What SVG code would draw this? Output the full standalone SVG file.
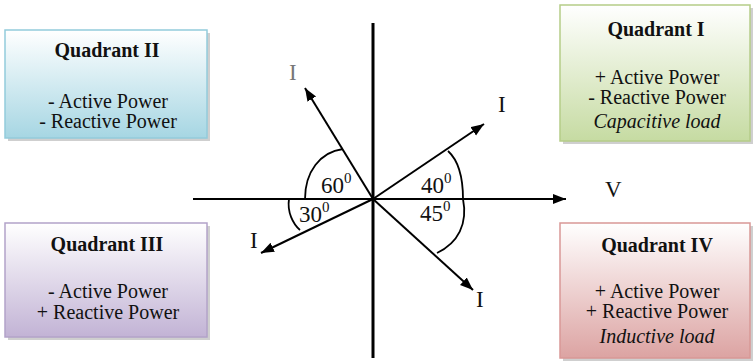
<svg xmlns="http://www.w3.org/2000/svg" width="753" height="361" viewBox="0 0 753 361">
<defs>
<linearGradient id="gB" x1="0" y1="0" x2="0" y2="1"><stop offset="0" stop-color="#ffffff"/><stop offset="1" stop-color="#a6d6e3"/></linearGradient>
<linearGradient id="gG" x1="0" y1="0" x2="0" y2="1"><stop offset="0" stop-color="#ffffff"/><stop offset="1" stop-color="#c6dba2"/></linearGradient>
<linearGradient id="gP" x1="0" y1="0" x2="0" y2="1"><stop offset="0" stop-color="#ffffff"/><stop offset="1" stop-color="#c2b3d5"/></linearGradient>
<linearGradient id="gR" x1="0" y1="0" x2="0" y2="1"><stop offset="0" stop-color="#ffffff"/><stop offset="1" stop-color="#dca3a2"/></linearGradient>
<marker id="ah" markerUnits="userSpaceOnUse" markerWidth="14" markerHeight="12" refX="13" refY="5" orient="auto"><path d="M0,0 L13,5 L0,10 z" fill="#000"/></marker>
</defs>
<style>
.t{font-family:"Liberation Serif","Times New Roman",serif;font-size:20px;fill:#111;text-anchor:middle}
.b{font-weight:bold}
.i{font-style:italic}
.lab{font-family:"Liberation Serif","Times New Roman",serif;font-size:23px;fill:#111}
.sup{font-size:15px}
.shadow{fill:#cfcfcf}
.ax{stroke:#000;fill:none}
.arc{stroke:#000;stroke-width:1.8;fill:none}
</style>
<g id="q2">
<rect class="shadow" x="8" y="33" width="202" height="108"/>
<rect x="5" y="30" width="202" height="108" fill="url(#gB)" stroke="#93cbdb" stroke-width="1.5"/>
<text class="t b" x="107" y="57">Quadrant II</text>
<text class="t" x="108" y="108">- Active Power</text>
<text class="t" x="108" y="128">- Reactive Power</text>
</g>
<g id="q1">
<rect class="shadow" x="563" y="8" width="190" height="136"/>
<rect x="560" y="5" width="190" height="136" fill="url(#gG)" stroke="#b5cd88" stroke-width="1.5"/>
<text class="t b" x="656" y="36">Quadrant I</text>
<text class="t" x="657" y="84">+ Active Power</text>
<text class="t" x="657" y="104">- Reactive Power</text>
<text class="t i" x="657" y="128">Capacitive load</text>
</g>
<g id="q3">
<rect class="shadow" x="8" y="226" width="202" height="114"/>
<rect x="5" y="223" width="202" height="114" fill="url(#gP)" stroke="#b3a3c9" stroke-width="1.5"/>
<text class="t b" x="107" y="251">Quadrant III</text>
<text class="t" x="108" y="298">- Active Power</text>
<text class="t" x="108" y="319">+ Reactive Power</text>
</g>
<g id="q4">
<rect class="shadow" x="563" y="226" width="190" height="135"/>
<rect x="560" y="223" width="190" height="135" fill="url(#gR)" stroke="#d99896" stroke-width="1.5"/>
<text class="t b" x="657" y="252">Quadrant IV</text>
<text class="t" x="657" y="298">+ Active Power</text>
<text class="t" x="657" y="318">+ Reactive Power</text>
<text class="t i" x="657" y="343">Inductive load</text>
</g>
<g id="connectors">
<line class="ax" x1="373" y1="23" x2="373" y2="358" stroke-width="3"/>
<line class="ax" x1="193" y1="199" x2="566" y2="199" stroke-width="1.8" marker-end="url(#ah)"/>
<line class="ax" x1="373" y1="199" x2="305" y2="88" stroke-width="2" marker-end="url(#ah)"/>
<line class="ax" x1="373" y1="199" x2="484" y2="124" stroke-width="2" marker-end="url(#ah)"/>
<line class="ax" x1="373" y1="199" x2="261" y2="253" stroke-width="2" marker-end="url(#ah)"/>
<line class="ax" x1="373" y1="199" x2="473" y2="290" stroke-width="2" marker-end="url(#ah)"/>
<path class="arc" d="M305,199 C305,172 320,152 343,149"/>
<path class="arc" d="M448,151 C459,161 463,180 463,199"/>
<path class="arc" d="M463,199 C468,224 458,243 437,253"/>
<path class="arc" d="M289,199 C287,212 293,224 300,230"/>
</g>
<g id="labels">
<text class="lab" x="289" y="80" style="fill:#777">I</text>
<text class="lab" x="498" y="112">I</text>
<text class="lab" x="250" y="248">I</text>
<text class="lab" x="476" y="307">I</text>
<text class="lab" x="605" y="197">V</text>
<text class="lab" x="321" y="193">60<tspan class="sup" dy="-10">0</tspan></text>
<text class="lab" x="421" y="193">40<tspan class="sup" dy="-10">0</tspan></text>
<text class="lab" x="420" y="221">45<tspan class="sup" dy="-10">0</tspan></text>
<text class="lab" x="299" y="222">30<tspan class="sup" dy="-10">0</tspan></text>
</g>
</svg>
